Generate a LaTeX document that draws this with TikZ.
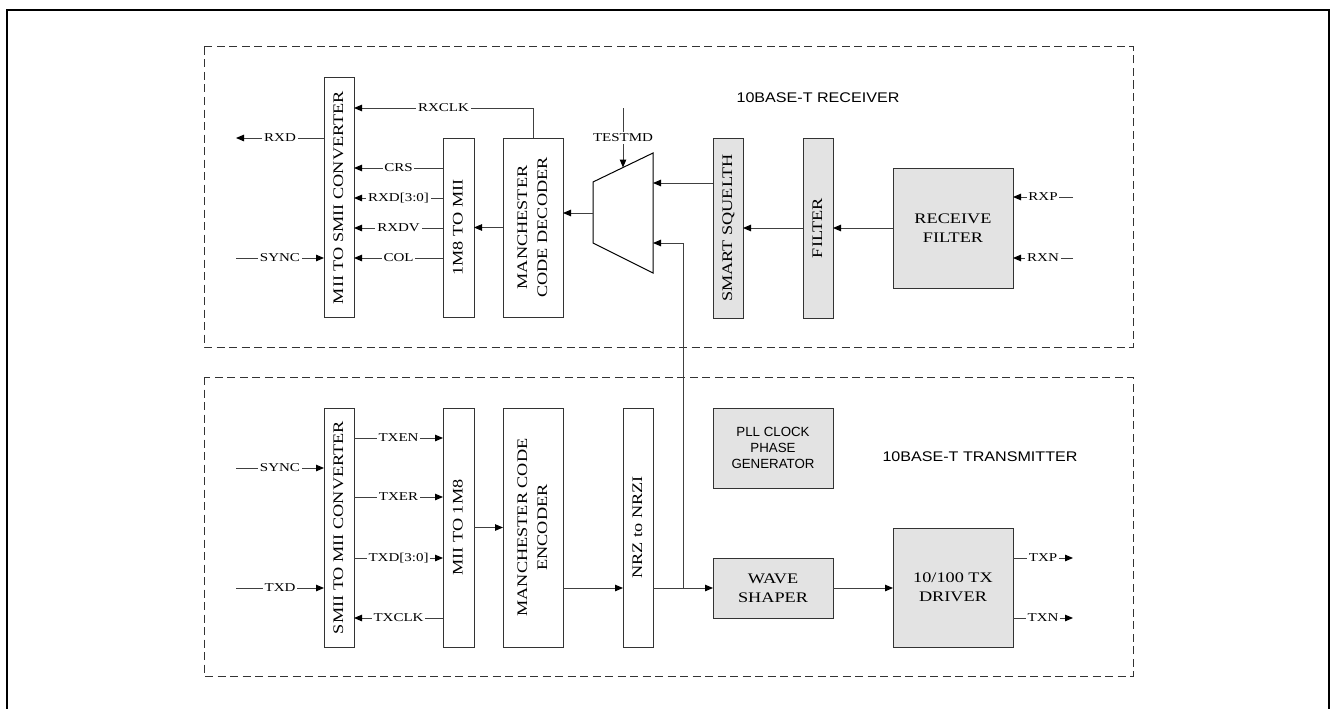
\documentclass[tikz,border=0pt]{standalone}
\usepackage{fontspec}
\setmainfont{Liberation Serif}
\newfontfamily\serifw[FakeStretch=1.25]{Liberation Serif}
\newfontfamily\sansw[FakeStretch=1.15]{Liberation Sans}
\newfontfamily\sansn{Liberation Sans}
\usetikzlibrary{arrows.meta}
\newcommand\blkfont{\serifw\fontsize{14.6}{20}\selectfont}
\newcommand\sigfont{\serifw\fontsize{12}{14}\selectfont}
\newcommand\vtxt[1]{\rotatebox{90}{\begin{tabular}{@{}c@{}}#1\end{tabular}}}

\begin{document}
\begin{tikzpicture}[x=1pt, y=-1pt,
        blk/.style={draw=black!80, line width=1pt, inner sep=0pt, outer sep=0pt, font=\blkfont, align=center},
        gblk/.style={blk, fill=black!11},
        lab/.style={fill=white, inner sep=1.8pt, font=\sigfont},
        arr/.style={-{Triangle[length=8pt,width=6.5pt,color=black]}, draw=black!75, line width=1pt},
        zone/.style={draw=black!80, line width=1pt, dash pattern=on 8pt off 4.5pt},
        title/.style={font=\sansw\fontsize{14}{17}\selectfont}
    ]
        \useasboundingbox (0,0) rectangle (1331,709);
        \draw[line width=1.3pt] (7,709) -- (7,10) -- (1329,10) -- (1329,709);

        % Receiver
        \draw[zone] (204,47) rectangle (1133,347);
        \node[title] (rxtitle) at (818,98) {10BASE-T RECEIVER};
        \node[blk, minimum width=30pt, minimum height=239pt] (m2s) at (339,197.5) {\vtxt{MII TO SMII CONVERTER}};
        \node[blk, minimum width=31pt, minimum height=179pt] (m8mii) at (458.5,227.5) {\vtxt{1M8 TO MII}};
        \node[blk, minimum width=60pt, minimum height=179pt] (mdec) at (533,227.5) {\vtxt{MANCHESTER\\CODE DECODER}};
        \node[gblk, minimum width=30pt, minimum height=180pt] (squelth) at (728,228) {\vtxt{SMART SQUELTH}};
        \node[gblk, minimum width=30pt, minimum height=180pt] (filter) at (818,228) {\vtxt{FILTER}};
        \node[gblk, minimum width=120pt, minimum height=120pt, font=\serifw\fontsize{14.6}{19.3}\selectfont] (rxfilt) at (953,228) {RECEIVE\\FILTER};

        % mux
        \draw[black, line width=1pt] (593,182) -- (653,153) -- (653,273) -- (593,243) -- cycle;
        \coordinate (muxout) at (593,213);
        \coordinate (muxin1) at (653,183);
        \coordinate (muxin2) at (653,243);
        \coordinate (muxsel) at (623,167.5);
        \coordinate (tstin) at (623,108);
        \coordinate (rxdout) at (236,138);
        \coordinate (rsync) at (236,258);
        \coordinate (rxpin) at (1073,197);
        \coordinate (rxnin) at (1073,258);

        \draw[arr] (mdec.north) |- node[lab, pos=0.75] {RXCLK} (m2s.east |- 0,108);
        \draw[arr] (m2s.west |- rxdout) -- node[lab] {RXD} (rxdout);
        \draw[arr] (m8mii.west |- 0,168) -- node[lab] {CRS} (m2s.east |- 0,168);
        \draw[arr] (m8mii.west |- 0,198) -- node[lab] {RXD[3:0]} (m2s.east |- 0,198);
        \draw[arr] (m8mii.west |- 0,228) -- node[lab] {RXDV} (m2s.east |- 0,228);
        \draw[arr] (m8mii.west |- 0,258) -- node[lab] {COL} (m2s.east |- 0,258);
        \draw[arr] (rsync) -- node[lab] {SYNC} (m2s.west |- rsync);
        \draw[arr] (mdec.west) -- (m8mii.east);
        \draw[arr] (muxout) -- (mdec.east |- muxout);
        \draw[arr] (tstin) -- node[lab] {TESTMD} (muxsel);
        \draw[arr] (squelth.west |- muxin1) -- (muxin1);
        \draw[arr] (filter.west) -- (squelth.east);
        \draw[arr] (rxfilt.west) -- (filter.east);
        \draw[arr] (rxpin) -- node[lab] {RXP} (rxfilt.east |- rxpin);
        \draw[arr] (rxnin) -- node[lab] {RXN} (rxfilt.east |- rxnin);

        % Transmitter
        \draw[zone] (204,377) rectangle (1133,676);
        \node[title] (txtitle) at (980,457) {10BASE-T TRANSMITTER};
        \node[blk, minimum width=30pt, minimum height=239pt] (s2m) at (339,527.5) {\vtxt{SMII TO MII CONVERTER}};
        \node[blk, minimum width=31pt, minimum height=239pt] (mii2m8) at (458.5,527.5) {\vtxt{MII TO 1M8}};
        \node[blk, minimum width=60pt, minimum height=239pt] (menc) at (533,527.5) {\vtxt{MANCHESTER CODE\\ENCODER}};
        \node[blk, minimum width=30pt, minimum height=239pt] (nrz) at (638,527.5) {\vtxt{NRZ to NRZI}};
        \node[gblk, minimum width=120pt, minimum height=80pt, font=\sansn\fontsize{13.3}{15.8}\selectfont] (pll) at (773,448) {PLL CLOCK\\PHASE\\GENERATOR};
        \node[gblk, minimum width=120pt, minimum height=60pt, font=\serifw\fontsize{14.6}{19.3}\selectfont] (wave) at (773,588) {WAVE\\SHAPER};
        \node[gblk, minimum width=120pt, minimum height=119pt, font=\serifw\fontsize{14.6}{19.3}\selectfont] (txdrv) at (953,587.5) {10/100 TX\\DRIVER};

        \coordinate (tsync) at (236,468);
        \coordinate (txdin) at (236,588);
        \coordinate (tap) at (683,588);
        \coordinate (txpout) at (1073,558);
        \coordinate (txnout) at (1073,618);

        \draw[arr] (tsync) -- node[lab] {SYNC} (s2m.west |- tsync);
        \draw[arr] (txdin) -- node[lab] {TXD} (s2m.west |- txdin);
        \draw[arr] (s2m.east |- 0,438) -- node[lab] {TXEN} (mii2m8.west |- 0,438);
        \draw[arr] (s2m.east |- 0,497) -- node[lab] {TXER} (mii2m8.west |- 0,497);
        \draw[arr] (s2m.east |- 0,558) -- node[lab] {TXD[3:0]} (mii2m8.west |- 0,558);
        \draw[arr] (mii2m8.west |- 0,618) -- node[lab] {TXCLK} (s2m.east |- 0,618);
        \draw[arr] (mii2m8.east) -- (menc.west);
        \draw[arr] (menc.east |- 0,588) -- (nrz.west |- 0,588);
        \draw[arr] (nrz.east |- wave.west) -- (wave.west);
        \draw[arr] (tap) |- (muxin2);
        \draw[arr] (wave.east) -- (txdrv.west |- wave.east);
        \draw[arr] (txdrv.east |- txpout) -- node[lab] {TXP} (txpout);
        \draw[arr] (txdrv.east |- txnout) -- node[lab] {TXN} (txnout);
    \end{tikzpicture}
\end{document}
